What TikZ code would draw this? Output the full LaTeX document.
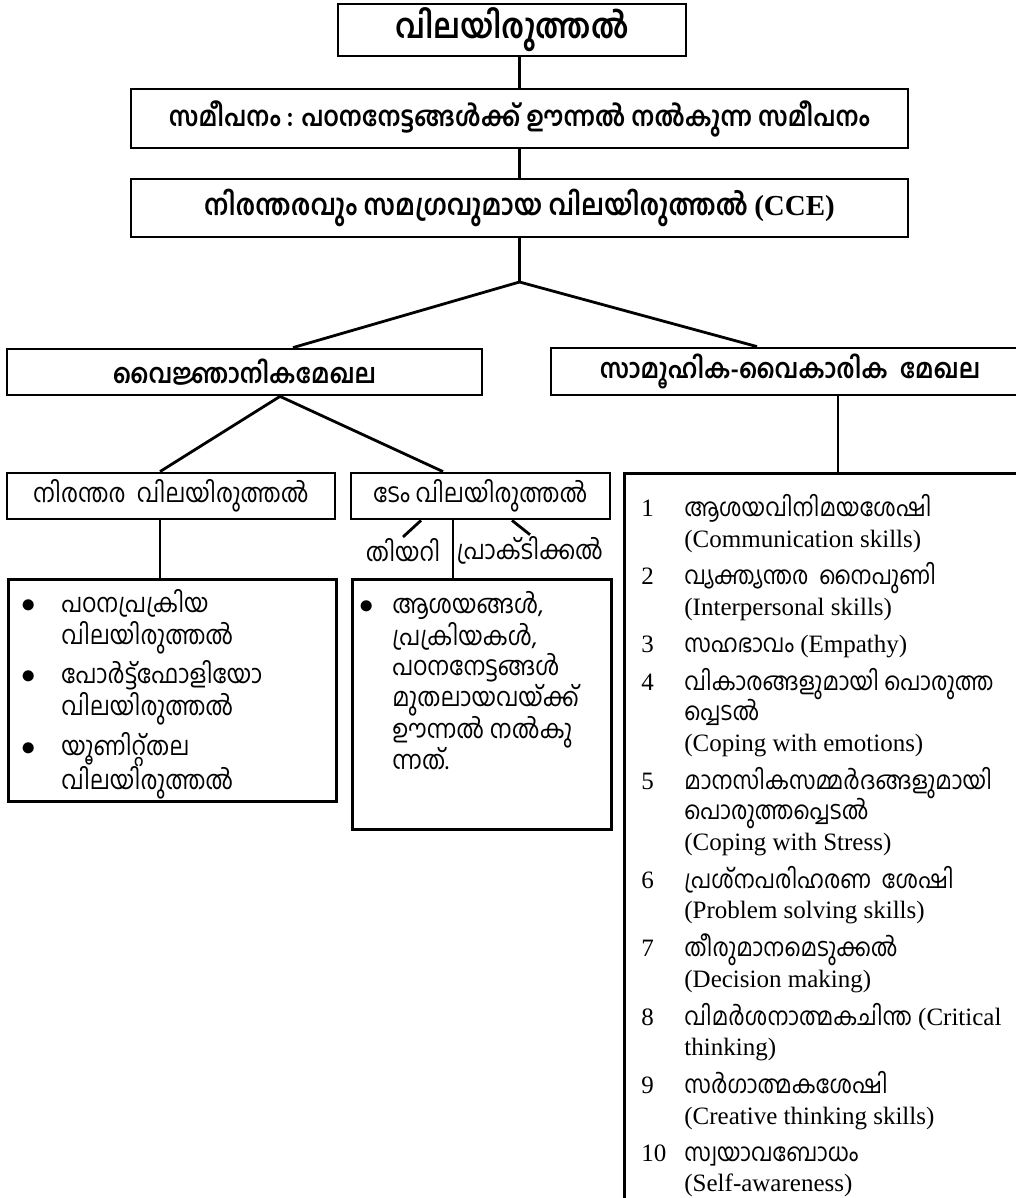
\documentclass[tikz,border=0pt]{standalone}
\usepackage{fontspec}
\setmainfont{Liberation Serif}
\newfontfamily\mal[Script=Malayalam,FakeStretch=0.88]{Hind Kochi}
\newcommand\mlt[1]{{\mal #1}}
\newcommand\blt{{\fontsize{15}{15}\selectfont$\bullet$}}
\usetikzlibrary{positioning}

\begin{document}
\begin{tikzpicture}
      [x=0.5pt,y=-0.5pt,line width=1.4pt,
      box node/.style={draw,rectangle,inner sep=0pt,align=center},
      head node/.style={box node,font=\mal\bfseries\fontsize{13.5}{16}\selectfont},
      sub node/.style={box node,font=\mal\fontsize{13}{16}\selectfont},
      label node/.style={inner sep=0pt,font=\mal\fontsize{13}{16}\selectfont},
      list node/.style={anchor=north west,inner sep=0pt,align=left,
        font=\fontsize{12.5}{15.25}\selectfont}]
      \clip (0,0) rectangle (1016,1198);
      % top of the tree
      \node[box node,minimum width=174pt,minimum height=26pt,
        font=\mal\bfseries\fontsize{17}{20}\selectfont] (title) at (512,30) {വിലയിരുത്തൽ};
      \node[head node,minimum width=388.5pt,minimum height=29.5pt,
        font=\mal\bfseries\fontsize{13.7}{16}\selectfont] (approach) at (519.5,118.5)
        {സമീപനം : പഠനനേട്ടങ്ങൾക്ക് ഊന്നൽ നൽകുന്ന സമീപനം};
      \node[head node,minimum width=388.5pt,minimum height=29pt,
        font=\mal\bfseries\fontsize{14.5}{16}\selectfont] (cce) at (519.5,208)
        {നിരന്തരവും സമഗ്രവുമായ വിലയിരുത്തൽ {\rmfamily (CCE)}};
      \coordinate (junc) at (519.5,282);
      \node[head node,minimum width=237.5pt,minimum height=23pt] (cog) at (244.5,372) {വൈജ്ഞാനികമേഖല};
      \node[head node,minimum width=239pt,minimum height=23.5pt] (socio) at (790,371.5) {സാമൂഹിക-വൈകാരിക\ \ മേഖല};
      % cognitive side
      \node[sub node,minimum width=164pt,minimum height=23pt] (nir) at (171,496) {നിരന്തര\ \ വിലയിരുത്തൽ};
      \node[sub node,minimum width=129.5pt,minimum height=23pt] (term) at (480.5,496) {ടേം വിലയിരുത്തൽ};
      \node[label node] (theory) at (403,550) {തിയറി};
      \node[label node] (practical) at (530,550) {പ്രാക്ടിക്കൽ};
      \node[box node,anchor=north west,minimum width=164pt,minimum height=111pt] (nirbox) at (7,578) {};
      \node[box node,anchor=north west,minimum width=129.5pt,minimum height=125pt] (termbox) at (351,578) {};
      \node[list node,font=\mal\fontsize{13}{15.25}\selectfont] (nirlist) at (20,588) {%
        \begin{tabular}{@{}p{20pt}@{}l@{}}
        \blt & പഠനപ്രക്രിയ\\ & വിലയിരുത്തൽ\\[3.5pt]
        \blt & പോർട്ട്ഫോളിയോ\\ & വിലയിരുത്തൽ\\[3.5pt]
        \blt & യൂണിറ്റ്തല\\ & വിലയിരുത്തൽ
        \end{tabular}};
      \node[list node,font=\mal\fontsize{13}{14.25}\selectfont] (termlist) at (358,590) {%
        \begin{tabular}{@{}p{16.5pt}@{}l@{}}
        \blt & ആശയങ്ങൾ,\\ & പ്രക്രിയകൾ,\\ & പഠനനേട്ടങ്ങൾ\\
        & മുതലായവയ്ക്ക്\\ & ഊന്നൽ നൽകു\\ & ന്നത്.
        \end{tabular}};
      % social-emotional side
      \node[box node,anchor=north west,minimum width=250pt,minimum height=400pt] (skillbox) at (623,472) {};
      \node[list node] (skills) at (640,493) {%
        \begin{tabular}{@{}p{21.5pt}@{}l@{}}
        1 & \mlt{ആശയവിനിമയശേഷി}\\ & (Communication skills)\\[3.25pt]
        2 & \mlt{വ്യക്ത്യന്തര\ \ നൈപുണി}\\ & (Interpersonal skills)\\[3.25pt]
        3 & \mlt{സഹഭാവം} (Empathy)\\[3.25pt]
        4 & \mlt{വികാരങ്ങളുമായി പൊരുത്ത}\\ & \mlt{പ്പെടൽ}\\ & (Coping with emotions)\\[3.25pt]
        5 & \mlt{മാനസികസമ്മർദങ്ങളുമായി}\\ & \mlt{പൊരുത്തപ്പെടൽ}\\ & (Coping with Stress)\\[3.25pt]
        6 & \mlt{പ്രശ്നപരിഹരണ\ \ ശേഷി}\\ & (Problem solving skills)\\[3.25pt]
        7 & \mlt{തീരുമാനമെടുക്കൽ}\\ & (Decision making)\\[3.25pt]
        8 & \mlt{വിമർശനാത്മകചിന്ത} (Critical\\ & thinking)\\[3.25pt]
        9 & \mlt{സർഗാത്മകശേഷി}\\ & (Creative thinking skills)\\[3.25pt]
        10 & \mlt{സ്വയാവബോധം}\\ & (Self-awareness)
        \end{tabular}};
      % connectors
      \draw (approach.north) -- (approach.north |- title.south);
      \draw (approach.south) -- (cce.north);
      \draw (cce.south) -- (junc);
      \draw ([xshift=24.25pt]cog.north) -- (junc) -- ([xshift=-16.5pt]socio.north);
      \draw ([xshift=24pt]socio.south) -- ([xshift=24pt]socio.south |- skillbox.north);
      \draw ([xshift=-5.5pt]nir.north) -- ([xshift=17.75pt]cog.south) -- ([xshift=-18.75pt]term.north);
      \draw ([xshift=-5.5pt]nir.south) -- ([xshift=-5.5pt]nir.south |- nirbox.north);
      \draw ([xshift=-13.75pt]term.south) -- ([xshift=-13.75pt]term.south |- termbox.north);
      \draw ([xshift=-29.75pt]term.south) -- (theory.north);
      \draw ([xshift=15.75pt]term.south) -- (practical.north);
    \end{tikzpicture}
\end{document}
